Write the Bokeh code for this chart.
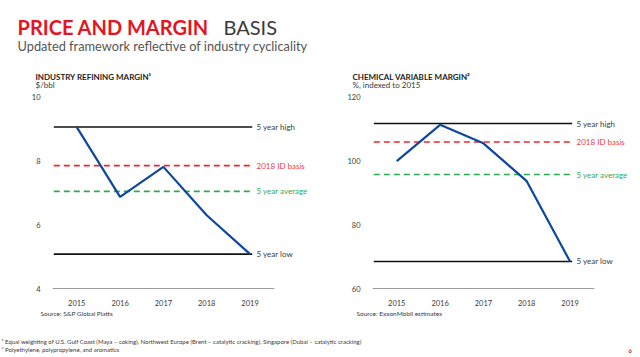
from bokeh.plotting import figure
from bokeh.layouts import column, row
from bokeh.models import Range1d, FixedTicker, ColumnDataSource
from bokeh.core.properties import value
from bokeh.embed import file_html
from bokeh.resources import INLINE

FONT = "Lato"
DARK = "#3a3a3a"
RED = "#e5141f"
GREEN = "#2eaa52"
BLUE = "#0d47a1"

# ---------------- data ----------------
years = [2015, 2016, 2017, 2018, 2019]
year_labels = ["2015", "2016", "2017", "2018", "2019"]

refining_margin = [9.07, 6.88, 7.82, 6.30, 5.08]
refining_ref_names = ["5 year high", "2018 ID basis", "5 year average", "5 year low"]
refining_ref_values = [9.07, 7.86, 7.05, 5.08]
refining_ticks = [4, 6, 8, 10]

chemical_margin = [100.0, 111.4, 105.6, 93.7, 68.5]
chemical_ref_names = ["5 year high", "2018 ID basis", "5 year average", "5 year low"]
chemical_ref_values = [111.8, 106.0, 95.8, 68.5]
chemical_ticks = [60, 80, 100, 120]

ref_colors = ["#111111", "#f0262e", "#2eaa52", "#111111"]
ref_dashes = ["solid", "6 4", "6 4", "solid"]
ref_text_colors = [DARK, "#ef3b45", GREEN, DARK]


def make_chart(vals, ref_names, ref_vals, ticks, y_lo, y_hi):
    p = figure(width=320, height=216,
               x_range=Range1d(2014.44, 2020.58), y_range=Range1d(y_lo, y_hi),
               output_backend="svg", toolbar_location=None,
               min_border_left=52, min_border_right=2,
               min_border_top=0, min_border_bottom=14)
    p.outline_line_color = None
    p.xgrid.visible = False
    p.ygrid.visible = False
    p.background_fill_color = "white"
    p.border_fill_color = "white"

    for ax in (p.xaxis[0], p.yaxis[0]):
        ax.axis_line_color = None
        ax.major_tick_line_color = None
        ax.minor_tick_line_color = None
        ax.major_label_text_font = FONT
        ax.major_label_text_font_size = "7.5px"
        ax.major_label_text_color = DARK
    p.xaxis[0].ticker = FixedTicker(ticks=years)
    p.xaxis[0].major_label_overrides = {y: l for y, l in zip(years, year_labels)}
    p.xaxis[0].major_label_standoff = 2
    p.yaxis[0].ticker = FixedTicker(ticks=ticks)
    p.yaxis[0].major_label_standoff = 6

    # baseline
    p.segment(x0=[2014.44], x1=[2019.56], y0=[ticks[0]], y1=[ticks[0]],
              line_color="#9a9a9a", line_width=1)

    # reference lines
    for v, c, d in zip(ref_vals, ref_colors, ref_dashes):
        p.segment(x0=[2014.47], x1=[2019.05], y0=[v], y1=[v],
                  line_color=c, line_width=1.6, line_dash=d)

    src = ColumnDataSource(dict(x=[2019.15] * len(ref_vals), y=ref_vals,
                                t=ref_names, c=ref_text_colors))
    p.text(x="x", y="y", text="t", text_color="c", source=src,
           text_font=value(FONT), text_font_size=value("8px"),
           text_baseline="middle", text_align="left")

    p.line(years, vals, line_color=BLUE, line_width=2.2)
    return p


left = make_chart(refining_margin, refining_ref_names, refining_ref_values,
                  refining_ticks, 3.907, 10.155)
right = make_chart(chemical_margin, chemical_ref_names, chemical_ref_values,
                   chemical_ticks, 59.07, 121.55)

# ---------------- header ----------------
header = figure(width=640, height=92, x_range=Range1d(0, 640), y_range=Range1d(92, 0),
                output_backend="svg", toolbar_location=None,
                min_border=0, min_border_left=0, min_border_right=0,
                min_border_top=0, min_border_bottom=0)
header.axis.visible = False
header.grid.visible = False
header.outline_line_color = None

header.text(x=[17], y=[26], text=["PRICE AND MARGIN"], text_color=RED,
            text_font=value(FONT), text_font_size=value("20px"), text_font_style="bold",
            text_baseline="alphabetic")
header.text(x=[223], y=[26], text=["BASIS"], text_color=DARK,
            text_font=value(FONT), text_font_size=value("20px"),
            text_baseline="alphabetic")
header.text(x=[17], y=[45], text=["Updated framework reflective of industry cyclicality"],
            text_color="#555555", text_font=value(FONT), text_font_size=value("12.8px"),
            text_baseline="alphabetic")
header.text(x=[35, 352], y=[76.5, 76.5],
            text=["INDUSTRY REFINING MARGIN\u00b9", "CHEMICAL VARIABLE MARGIN\u00b2"],
            text_color="#222222", text_font=value(FONT), text_font_size=value("8px"),
            text_font_style="bold", text_baseline="alphabetic")
header.text(x=[35, 352], y=[84.5, 84.5], text=["$/bbl", "%, indexed to 2015"],
            text_color=DARK, text_font=value(FONT), text_font_size=value("8px"),
            text_baseline="middle")

# ---------------- footer ----------------
footer = figure(width=640, height=49, x_range=Range1d(0, 640), y_range=Range1d(49, 0),
                output_backend="svg", toolbar_location=None,
                min_border=0, min_border_left=0, min_border_right=0,
                min_border_top=0, min_border_bottom=0)
footer.axis.visible = False
footer.grid.visible = False
footer.outline_line_color = None

footer.text(x=[40, 356], y=[5, 5],
            text=["Source: S&P Global Platts", "Source: ExxonMobil estimates"],
            text_color=DARK, text_font=value(FONT), text_font_size=value("6.5px"),
            text_baseline="middle")
footer.text(x=[1, 1], y=[33, 41],
            text=["\u00b9 Equal weighting of U.S. Gulf Coast  (Maya \u2013 coking), Northwest Europe (Brent \u2013 catalytic cracking), Singapore (Dubai \u2013 catalytic cracking)",
                  "\u00b2 Polyethylene, polypropylene, and aromatics"],
            text_color=DARK, text_font=value(FONT), text_font_size=value("6px"),
            text_baseline="middle")
footer.text(x=[628], y=[42], text=["6"], text_color=RED, text_font=value(FONT),
            text_font_size=value("6px"), text_font_style="bold", text_baseline="middle")

layout = column(header, row(left, right), footer)
open("out.html", "w").write(file_html(layout, INLINE))
